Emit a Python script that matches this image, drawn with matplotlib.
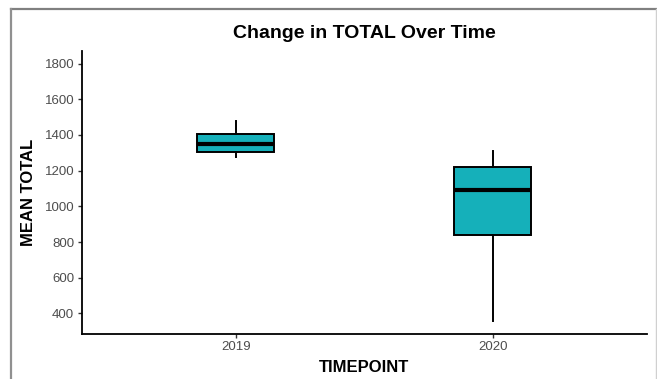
import numpy as np
import matplotlib
matplotlib.use("Agg")
from matplotlib import pyplot as plt
from matplotlib.lines import Line2D

# box summary stats
timepoints = ["2019", "2020"]
whisker_low = [1275, 358]
q1 = [1306, 837]
median = [1348, 1089]
q3 = [1405, 1222]
whisker_high = [1480, 1312]

plt.rcParams["font.family"] = ["Liberation Sans", "DejaVu Sans"]

fig = plt.figure(figsize=(6.57, 3.79), dpi=100)
ax = fig.add_axes([0.1244, 0.1195, 0.86, 0.746])

stats = []
for i in range(len(timepoints)):
    stats.append({"label": timepoints[i], "whislo": whisker_low[i], "q1": q1[i],
                  "med": median[i], "q3": q3[i], "whishi": whisker_high[i], "fliers": []})

ax.bxp(stats, positions=[1, 2], widths=0.3, patch_artist=True, showcaps=False,
       boxprops=dict(facecolor="#15B0BA", edgecolor="black", linewidth=1.4),
       medianprops=dict(color="black", linewidth=3),
       whiskerprops=dict(color="black", linewidth=1.4))

ax.set_xlim(0.4, 2.6)
ax.set_ylim(286, 1871)
ax.set_yticks([400, 600, 800, 1000, 1200, 1400, 1600, 1800])
ax.set_xticks([1, 2])
ax.set_xticklabels(timepoints)

for s in ["top", "right"]:
    ax.spines[s].set_visible(False)
for s in ["left", "bottom"]:
    ax.spines[s].set_linewidth(1.3)
ax.tick_params(colors="#333333", labelcolor="#4d4d4d", labelsize=9.5, length=3, width=1, pad=2.5)

ax.set_title("Change in TOTAL Over Time", fontsize=14, fontweight="bold", pad=9)
ax.set_xlabel("TIMEPOINT", fontsize=12, fontweight="bold", labelpad=5)
ax.set_ylabel("MEAN TOTAL", fontsize=12, fontweight="bold", labelpad=6)

# screenshot frame
fig.add_artist(Line2D([11/657, 1], [1 - 9/379, 1 - 9/379], color="#808080", lw=1.6, transform=fig.transFigure))
fig.add_artist(Line2D([11/657, 11/657], [0, 1 - 9/379], color="#909090", lw=1.6, transform=fig.transFigure))
fig.add_artist(Line2D([656/657, 656/657], [0, 1 - 9/379], color="#d0d0d0", lw=1.0, transform=fig.transFigure))

plt.savefig("out.png", dpi=100)
